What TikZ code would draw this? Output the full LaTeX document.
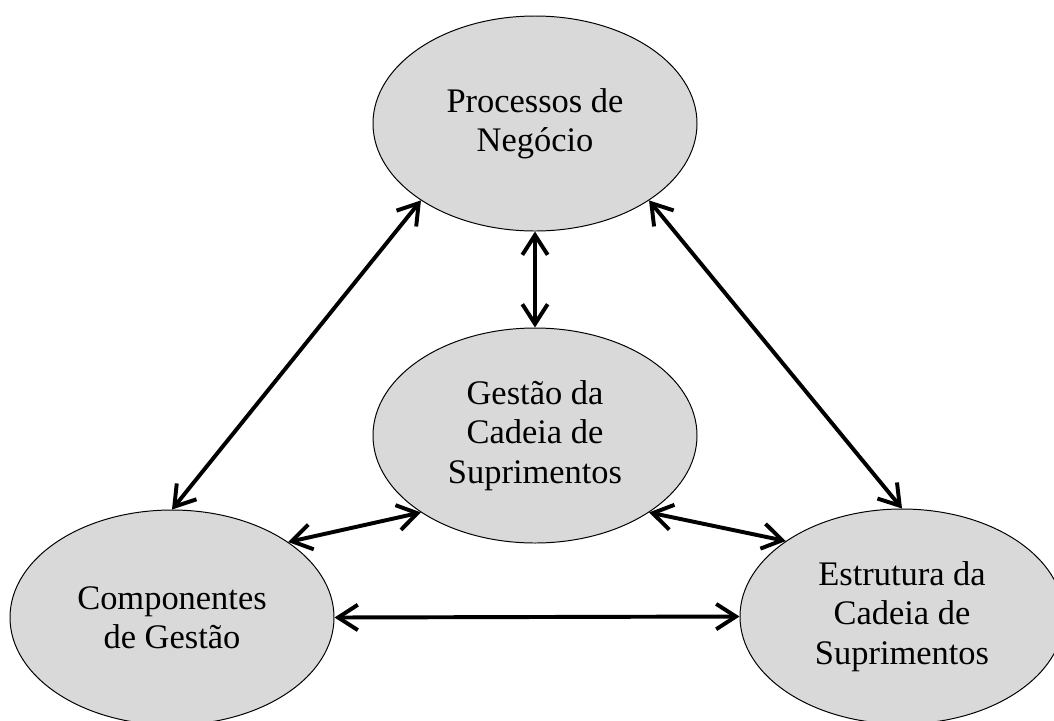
\documentclass[tikz,border=0pt]{standalone}
\usepackage{fontspec}
\setmainfont{Liberation Serif}
\usetikzlibrary{shapes.geometric, arrows.meta}

\begin{document}
\begin{tikzpicture}[
  blob/.style={draw, ellipse, line width=0.7pt, fill=black!15,
    minimum width=8.1cm, minimum height=5.375cm, inner sep=0pt,
    align=center, font=\fontsize{24.5}{27.9}\selectfont},
  link/.style={{Straight Barb[length=14pt,width=18pt]}-{Straight Barb[length=14pt,width=18pt]}, line width=2.8pt}
]
  \useasboundingbox (0,0) rectangle (26.35,-18);
  \clip (0,0) rectangle (26.35,-18);
  \node[blob] (proc) at (13.375,-3.0875) {Processos de\\Negócio};
  \node[blob] (gcs) at (13.375,-10.8875) {Gestão da\\Cadeia de\\Suprimentos};
  \node[blob] (comp) at (4.3,-15.4375) {Componentes\\de Gestão};
  \node[blob] (estr) at (22.55,-15.4125) {Estrutura da\\Cadeia de\\Suprimentos};
  \draw[link] (proc.270) -- (gcs.90);
  \draw[link] (proc.214) -- (comp.90);
  \draw[link] (proc.326) -- (estr.90);
  \draw[link] (gcs.214) -- (comp.33);
  \draw[link] (gcs.326) -- (estr.147);
  \draw[link] (comp.0) -- (estr.180);
\end{tikzpicture}
\end{document}
